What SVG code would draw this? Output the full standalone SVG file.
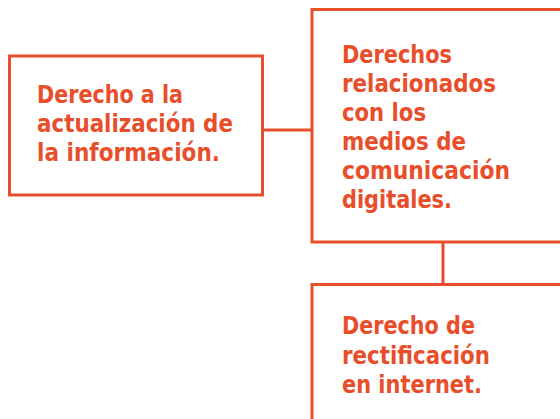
<svg xmlns="http://www.w3.org/2000/svg" width="560" height="419" viewBox="0 0 560 419">
<style>
.box{fill:#fff;stroke:#E94E2B;stroke-width:3}
.ln{stroke:#E94E2B;stroke-width:3;fill:none}
.t{fill:#E94E2B;font-family:"DejaVu Sans Condensed","DejaVu Sans",sans-serif;font-stretch:condensed;font-weight:bold;font-size:24px}
</style>
<rect width="560" height="419" fill="#fff"/>
<g id="connectors">
<line class="ln" x1="263" y1="130" x2="312" y2="130"/>
<line class="ln" x1="443" y1="242" x2="443" y2="285"/>
</g>
<g id="node1">
<rect class="box" x="9.5" y="56" width="253" height="139"/>
<text class="t"><tspan x="37" y="103" textLength="146" lengthAdjust="spacingAndGlyphs">Derecho a la</tspan><tspan x="37" y="132" textLength="196" lengthAdjust="spacingAndGlyphs">actualización de</tspan><tspan x="37" y="161" textLength="183" lengthAdjust="spacingAndGlyphs">la información.</tspan></text>
</g>
<g id="node2">
<rect class="box" x="312" y="9.5" width="260" height="232.5"/>
<text class="t"><tspan x="342" y="63" textLength="110" lengthAdjust="spacingAndGlyphs">Derechos</tspan><tspan x="342" y="92" textLength="154" lengthAdjust="spacingAndGlyphs">relacionados</tspan><tspan x="342" y="121" textLength="84" lengthAdjust="spacingAndGlyphs">con los</tspan><tspan x="342" y="150" textLength="124" lengthAdjust="spacingAndGlyphs">medios de</tspan><tspan x="342" y="179" textLength="168" lengthAdjust="spacingAndGlyphs">comunicación</tspan><tspan x="342" y="208" textLength="110" lengthAdjust="spacingAndGlyphs">digitales.</tspan></text>
</g>
<g id="node3">
<rect class="box" x="312" y="284.5" width="260" height="150"/>
<text class="t"><tspan x="342" y="334" textLength="133" lengthAdjust="spacingAndGlyphs">Derecho de</tspan><tspan x="342" y="364" textLength="148" lengthAdjust="spacingAndGlyphs">rectificación</tspan><tspan x="342" y="393" textLength="140" lengthAdjust="spacingAndGlyphs">en internet.</tspan></text>
</g>
</svg>
